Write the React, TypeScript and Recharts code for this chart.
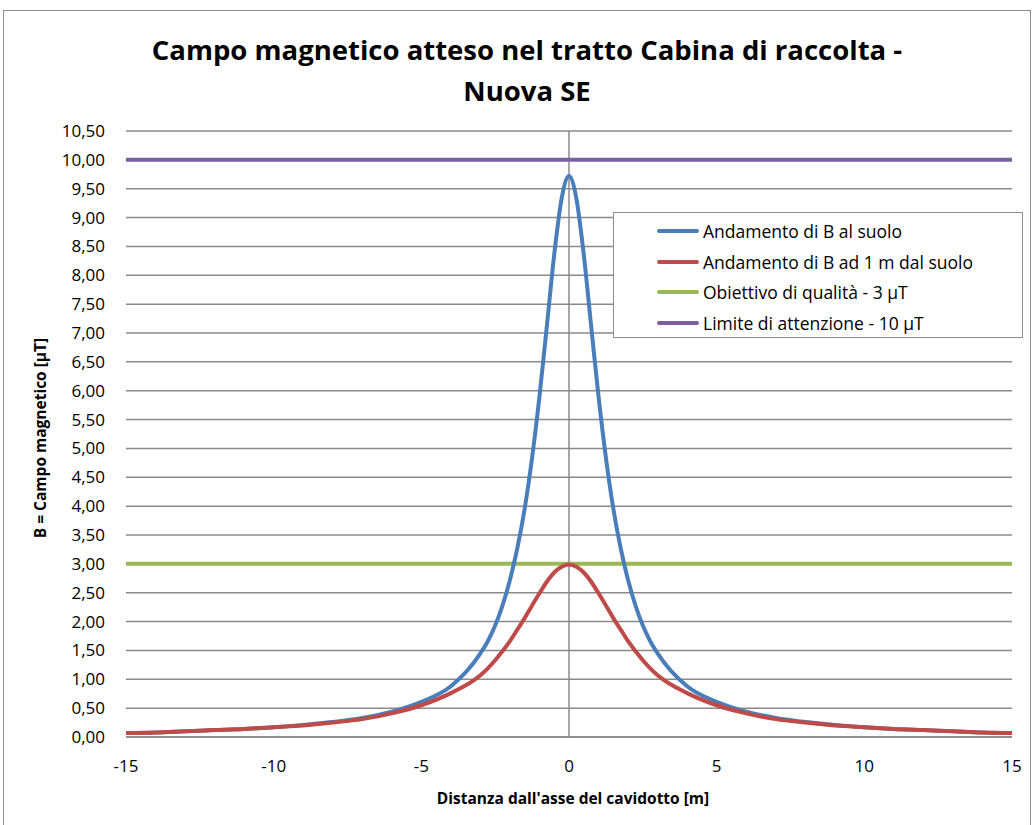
import React from "react";
import { LineChart, Line, XAxis, YAxis, CartesianGrid, ReferenceLine } from "recharts";

// Distance from the cable axis [m]
const distances = [
  -15, -14, -13, -12, -11, -10, -9, -8, -7, -6, -5, -4,
  -3, -2.75, -2.5, -2.25, -2, -1.75, -1.5, -1.25, -1, -0.75, -0.5, -0.25,
  0, 0.25, 0.5, 0.75, 1, 1.25, 1.5, 1.75, 2, 2.25, 2.5, 2.75, 3,
  4, 5, 6, 7, 8, 9, 10, 11, 12, 13, 14, 15,
];

// B at ground level [µT]
const groundValues = [
  0.07, 0.08, 0.10, 0.12, 0.14, 0.17, 0.21, 0.26, 0.33, 0.44, 0.61, 0.88,
  1.45, 1.66, 1.93, 2.28, 2.72, 3.27, 3.96, 4.84, 5.90, 7.12, 8.36, 9.33,
  9.72, 9.33, 8.36, 7.12, 5.90, 4.84, 3.96, 3.27, 2.72, 2.28, 1.93, 1.66, 1.45,
  0.88, 0.61, 0.44, 0.33, 0.26, 0.21, 0.17, 0.14, 0.12, 0.10, 0.08, 0.07,
];

// B at 1 m above ground [µT]
const oneMeterValues = [
  0.07, 0.08, 0.10, 0.12, 0.14, 0.17, 0.20, 0.25, 0.31, 0.41, 0.55, 0.76,
  1.07, 1.19, 1.33, 1.49, 1.66, 1.86, 2.06, 2.28, 2.49, 2.69, 2.85, 2.95,
  2.99, 2.95, 2.85, 2.69, 2.49, 2.28, 2.06, 1.86, 1.66, 1.49, 1.33, 1.19, 1.07,
  0.76, 0.55, 0.41, 0.31, 0.25, 0.20, 0.17, 0.14, 0.12, 0.10, 0.08, 0.07,
];

const limitDistances = [-15, 15];
const qualityTarget = [3, 3];
const attentionLimit = [10, 10];

const xTicks = [-15, -10, -5, 0, 5, 10, 15];
const yTicks = [
  0, 0.5, 1, 1.5, 2, 2.5, 3, 3.5, 4, 4.5, 5, 5.5, 6, 6.5, 7, 7.5, 8, 8.5, 9, 9.5, 10, 10.5,
];

const seriesNames = [
  "Andamento di B al suolo",
  "Andamento di B ad 1 m dal suolo",
  "Obiettivo di qualità - 3 µT",
  "Limite di attenzione - 10 µT",
];
const seriesColors = ["#4A7EBB", "#BE4B48", "#98B954", "#7D60A0"];

const groundData = distances.map((d, i) => ({ x: d, y: groundValues[i] }));
const oneMeterData = distances.map((d, i) => ({ x: d, y: oneMeterValues[i] }));
const qualityData = limitDistances.map((d, i) => ({ x: d, y: qualityTarget[i] }));
const attentionData = limitDistances.map((d, i) => ({ x: d, y: attentionLimit[i] }));

const FONT = "'Open Sans', sans-serif";
const GRID = "#8A8A8A";

const fmt = (v: number) => v.toFixed(2).replace(".", ",");

export default function App() {
  return (
    <div
      style={{
        position: "absolute",
        left: 0,
        top: 0,
        width: 1034,
        height: 825,
        overflow: "hidden",
        background: "#fff",
        fontFamily: FONT,
      }}
    >
      <div
        style={{
          position: "absolute",
          left: 3,
          top: 10,
          width: 1026,
          height: 900,
          border: "1px solid #8E8E8E",
        }}
      />
      <div
        style={{
          position: "absolute",
          left: 0,
          width: 1054,
          top: 29,
          textAlign: "center",
          fontWeight: 700,
          fontSize: 27.5,
          lineHeight: "41px",
          color: "#000",
        }}
      >
        Campo magnetico atteso nel tratto Cabina di raccolta -<br />
        Nuova SE
      </div>

      <div style={{ position: "absolute", left: 0, top: 0 }}>
        <LineChart
          width={1034}
          height={825}
          margin={{ top: 131, right: 22, bottom: 58, left: 0 }}
        >
          <CartesianGrid
            stroke={GRID}
            strokeWidth={1.5}
            horizontal={true}
            vertical={false}
          />
          <ReferenceLine x={0} stroke={GRID} strokeWidth={1.5} />
          <XAxis
            type="number"
            dataKey="x"
            domain={[-15, 15]}
            ticks={xTicks}
            allowDataOverflow
            axisLine={{ stroke: GRID, strokeWidth: 1.5 }}
            tickLine={false}
            tickSize={0}
            tickMargin={23}
            height={30}
            tick={{ fill: "#000", fontSize: 17, fontFamily: FONT }}
          />
          <YAxis
            type="number"
            dataKey="y"
            domain={[0, 10.5]}
            ticks={yTicks}
            interval={0}
            axisLine={false}
            tickLine={false}
            tickSize={0}
            tickMargin={21}
            width={126}
            tickFormatter={fmt}
            tick={{ fill: "#000", fontSize: 17, fontFamily: FONT }}
          />
          <Line
            data={qualityData}
            dataKey="y"
            name={seriesNames[2]}
            stroke={seriesColors[2]}
            strokeWidth={4}
            dot={false}
            type="linear"
            isAnimationActive={false}
          />
          <Line
            data={attentionData}
            dataKey="y"
            name={seriesNames[3]}
            stroke={seriesColors[3]}
            strokeWidth={4}
            dot={false}
            type="linear"
            isAnimationActive={false}
          />
          <Line
            data={groundData}
            dataKey="y"
            name={seriesNames[0]}
            stroke={seriesColors[0]}
            strokeWidth={4}
            dot={false}
            type="monotone"
            isAnimationActive={false}
          />
          <Line
            data={oneMeterData}
            dataKey="y"
            name={seriesNames[1]}
            stroke={seriesColors[1]}
            strokeWidth={4}
            dot={false}
            type="monotone"
            isAnimationActive={false}
          />
        </LineChart>
      </div>

      {/* Y axis title */}
      <div
        style={{
          position: "absolute",
          left: 40,
          top: 438,
          transform: "translate(-50%, -50%) rotate(-90deg)",
          whiteSpace: "nowrap",
          fontWeight: 700,
          fontSize: 15.5,
          color: "#000",
        }}
      >
        B = Campo magnetico [µT]
      </div>

      {/* X axis title */}
      <div
        style={{
          position: "absolute",
          left: 573,
          top: 798,
          transform: "translate(-50%, -50%)",
          whiteSpace: "nowrap",
          fontWeight: 700,
          fontSize: 15.5,
          color: "#000",
        }}
      >
        Distanza dall'asse del cavidotto [m]
      </div>

      {/* Legend */}
      <div
        style={{
          position: "absolute",
          left: 613,
          top: 212,
          width: 410,
          height: 126,
          border: "1px solid #8E8E8E",
          background: "#fff",
          boxSizing: "border-box",
        }}
      >
        {seriesNames.map((n, i) => (
          <div
            key={n}
            style={{
              position: "absolute",
              left: 43,
              top: 18 + i * 30.5 - 15,
              height: 30,
              display: "flex",
              alignItems: "center",
              whiteSpace: "nowrap",
              fontSize: 17.5,
              color: "#000",
            }}
          >
            <span
              style={{
                display: "inline-block",
                width: 42,
                height: 4,
                borderRadius: 2,
                background: seriesColors[i],
                marginRight: 4,
              }}
            />
            {n}
          </div>
        ))}
      </div>
    </div>
  );
}
